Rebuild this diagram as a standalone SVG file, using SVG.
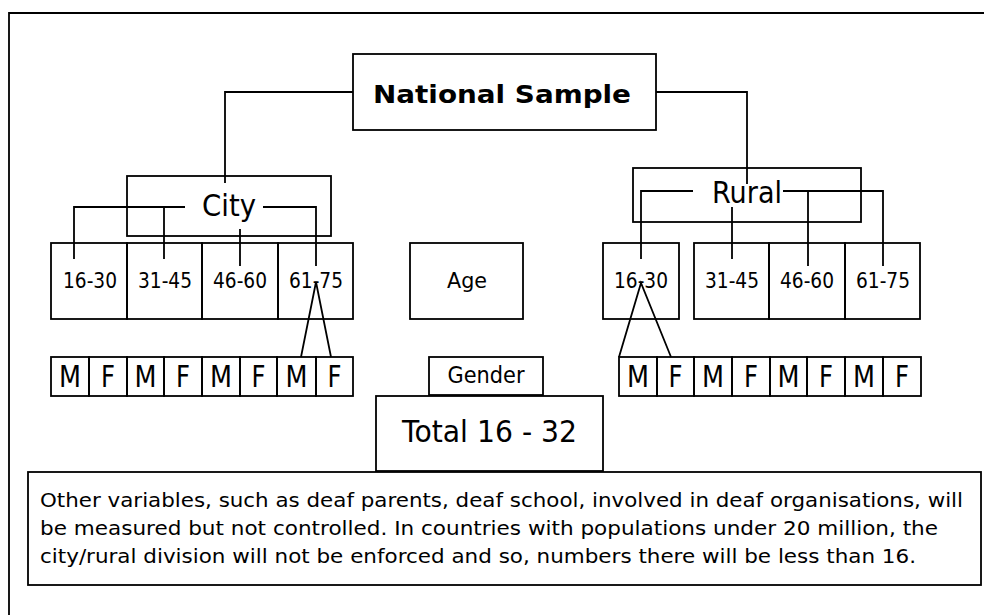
<svg xmlns="http://www.w3.org/2000/svg" width="984" height="615" viewBox="0 0 984 615">
<style>
.b{fill:#fff;stroke:#000;stroke-width:1.8}
.o{fill:none;stroke:#000;stroke-width:1.8}
.c{fill:none;stroke:#000;stroke-width:1.8}
text{font-family:"DejaVu Sans",sans-serif;fill:#000;text-anchor:middle}
.ag{font-size:20.5px}
.mf{font-size:30px}
.lg{font-size:31px}
.nt{font-size:19.5px;text-anchor:start}
</style>
<rect width="984" height="615" fill="#fff"/>
<path class="c" d="M9,615 V13 H984" stroke-width="2.2"/>

<g id="connectors">
<path class="c" d="M353,92 H225 V183"/>
<path class="c" d="M656,92 H747 V184"/>
<path class="c" d="M185,207 H74 V259 M164,207 V259 M263,207 H316 V266 M240,229 V266"/>
<path class="c" d="M301,357 L316,282 L331,357"/>
<path class="c" d="M693,191 H641 V259 M732,207 V259 M783,191 H883 V266 M808,191 V266"/>
<path class="c" d="M619,357 L641,283 L671,357"/>
</g>

<g id="national"><rect class="b" x="353" y="54" width="303" height="76"/>
<text x="502" y="103" font-size="25" font-weight="bold" textLength="258" lengthAdjust="spacingAndGlyphs">National Sample</text></g>

<g id="city"><rect class="o" x="127" y="176" width="204" height="60"/>
<text class="lg" x="229" y="216" textLength="54" lengthAdjust="spacingAndGlyphs">City</text></g>
<g id="rural"><rect class="o" x="633" y="168" width="228" height="54"/>
<text class="lg" x="747" y="203" textLength="70" lengthAdjust="spacingAndGlyphs">Rural</text></g>

<g id="city-ages">
<rect class="o" x="51" y="243" width="76" height="76"/>
<rect class="o" x="127" y="243" width="75" height="76"/>
<rect class="o" x="202" y="243" width="76" height="76"/>
<rect class="o" x="278" y="243" width="75" height="76"/>
<text class="ag" x="90" y="288" textLength="54" lengthAdjust="spacingAndGlyphs">16-30</text>
<text class="ag" x="165" y="288" textLength="54" lengthAdjust="spacingAndGlyphs">31-45</text>
<text class="ag" x="240" y="288" textLength="54" lengthAdjust="spacingAndGlyphs">46-60</text>
<text class="ag" x="316" y="288" textLength="54" lengthAdjust="spacingAndGlyphs">61-75</text>
</g>

<g id="rural-ages">
<rect class="o" x="603" y="243" width="76" height="76"/>
<rect class="o" x="694" y="243" width="75" height="76"/>
<rect class="o" x="769" y="243" width="76" height="76"/>
<rect class="o" x="845" y="243" width="75" height="76"/>
<text class="ag" x="641" y="288" textLength="54" lengthAdjust="spacingAndGlyphs">16-30</text>
<text class="ag" x="732" y="288" textLength="54" lengthAdjust="spacingAndGlyphs">31-45</text>
<text class="ag" x="807" y="288" textLength="54" lengthAdjust="spacingAndGlyphs">46-60</text>
<text class="ag" x="883" y="288" textLength="54" lengthAdjust="spacingAndGlyphs">61-75</text>
</g>

<g id="age"><rect class="o" x="410" y="243" width="113" height="76"/>
<text class="ag" x="467" y="288" textLength="40" lengthAdjust="spacingAndGlyphs">Age</text></g>

<g id="city-gender">
<rect class="o" x="51" y="357" width="38" height="39"/>
<rect class="o" x="89" y="357" width="38" height="39"/>
<rect class="o" x="127" y="357" width="37" height="39"/>
<rect class="o" x="164" y="357" width="38" height="39"/>
<rect class="o" x="202" y="357" width="38" height="39"/>
<rect class="o" x="240" y="357" width="37" height="39"/>
<rect class="o" x="277" y="357" width="39" height="39"/>
<rect class="o" x="316" y="357" width="37" height="39"/>
<text class="mf" x="70" y="387" textLength="22" lengthAdjust="spacingAndGlyphs">M</text><text class="mf" x="108" y="387" textLength="14" lengthAdjust="spacingAndGlyphs">F</text>
<text class="mf" x="145.5" y="387" textLength="22" lengthAdjust="spacingAndGlyphs">M</text><text class="mf" x="183" y="387" textLength="14" lengthAdjust="spacingAndGlyphs">F</text>
<text class="mf" x="221" y="387" textLength="22" lengthAdjust="spacingAndGlyphs">M</text><text class="mf" x="258.5" y="387" textLength="14" lengthAdjust="spacingAndGlyphs">F</text>
<text class="mf" x="296.5" y="387" textLength="22" lengthAdjust="spacingAndGlyphs">M</text><text class="mf" x="334.5" y="387" textLength="14" lengthAdjust="spacingAndGlyphs">F</text>
</g>

<g id="rural-gender">
<rect class="o" x="619" y="357" width="38" height="39"/>
<rect class="o" x="657" y="357" width="37" height="39"/>
<rect class="o" x="694" y="357" width="38" height="39"/>
<rect class="o" x="732" y="357" width="38" height="39"/>
<rect class="o" x="770" y="357" width="37" height="39"/>
<rect class="o" x="807" y="357" width="38" height="39"/>
<rect class="o" x="845" y="357" width="38" height="39"/>
<rect class="o" x="883" y="357" width="38" height="39"/>
<text class="mf" x="638" y="387" textLength="22" lengthAdjust="spacingAndGlyphs">M</text><text class="mf" x="675.5" y="387" textLength="14" lengthAdjust="spacingAndGlyphs">F</text>
<text class="mf" x="713" y="387" textLength="22" lengthAdjust="spacingAndGlyphs">M</text><text class="mf" x="751" y="387" textLength="14" lengthAdjust="spacingAndGlyphs">F</text>
<text class="mf" x="788.5" y="387" textLength="22" lengthAdjust="spacingAndGlyphs">M</text><text class="mf" x="826" y="387" textLength="14" lengthAdjust="spacingAndGlyphs">F</text>
<text class="mf" x="864" y="387" textLength="22" lengthAdjust="spacingAndGlyphs">M</text><text class="mf" x="902" y="387" textLength="14" lengthAdjust="spacingAndGlyphs">F</text>
</g>

<g id="gender"><rect class="b" x="429" y="357" width="114" height="38"/>
<text x="486" y="383" font-size="23" textLength="77" lengthAdjust="spacingAndGlyphs">Gender</text></g>

<g id="total"><rect class="b" x="376" y="396" width="227" height="75"/>
<text class="lg" x="489.5" y="442" textLength="175" lengthAdjust="spacingAndGlyphs">Total 16 - 32</text></g>

<g id="note"><rect class="b" x="28" y="472" width="953" height="113"/>
<text class="nt" x="40" y="507" textLength="923" lengthAdjust="spacingAndGlyphs">Other variables, such as deaf parents, deaf school, involved in deaf organisations, will</text>
<text class="nt" x="40" y="535" textLength="898" lengthAdjust="spacingAndGlyphs">be measured but not controlled. In countries with populations under 20 million, the</text>
<text class="nt" x="40" y="563" textLength="876" lengthAdjust="spacingAndGlyphs">city/rural division will not be enforced and so, numbers there will be less than 16.</text>
</g>
</svg>
